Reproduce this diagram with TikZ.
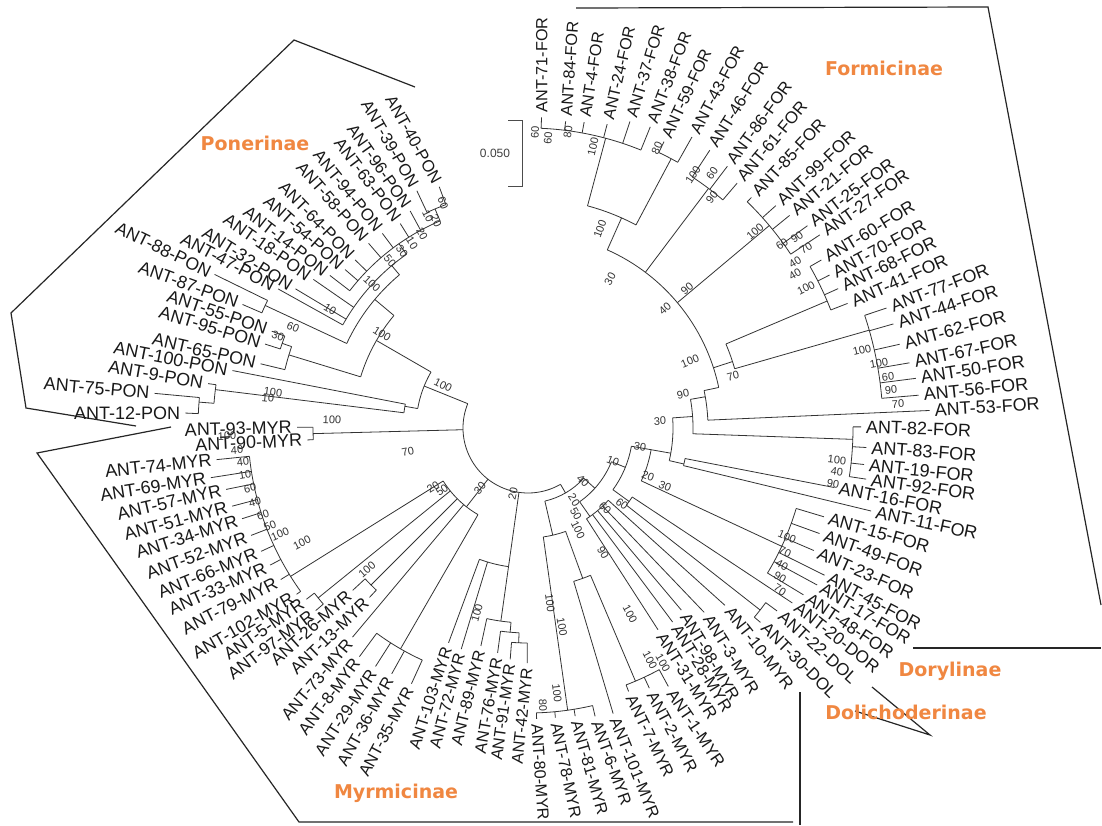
\documentclass[tikz,border=0pt]{standalone}
\usepackage{fontspec}
\setmainfont{Liberation Sans}
\newfontfamily\grpfont{DejaVu Sans}
\definecolor{grp}{RGB}{240,135,65}
\tikzset{
 br/.style={line width=0.8pt, draw=black!80},
 lab/.style={inner sep=1pt, text=black!90},
 bsl/.style={font=\fontsize{11}{11}\selectfont, inner sep=0pt, text=black!80},
 grpl/.style={font=\grpfont\bfseries\fontsize{19}{19}\selectfont, text=grp, inner sep=0pt},
 frame/.style={line width=1.2pt, draw=black!85},
}
\newcommand\rb[3]{\draw[br] (#1:#2pt) -- (#1:#3pt);}
\newcommand\ab[3]{\draw[br] (#1:#3pt) arc[start angle=#1, end angle=#2, radius=#3pt];}
\newcommand\lfR[6]{\pgfmathsetmacro\tipr{#3-4}\draw[br] (#1:#2pt) -- (#1:\tipr pt);
 \pgfmathsetmacro\fs{18/sqrt(cos(#4)^2+sin(#4)^2/0.81)}%
 \node[lab,font=\fontsize{\fs}{\fs}\selectfont,anchor=west,rotate=#4] (#5) at (#1:#3pt) {#6};}
\newcommand\lfL[6]{\pgfmathsetmacro\tipr{#3-4}\draw[br] (#1:#2pt) -- (#1:\tipr pt);
 \pgfmathsetmacro\fs{18/sqrt(cos(#4)^2+sin(#4)^2/0.81)}%
 \node[lab,font=\fontsize{\fs}{\fs}\selectfont,anchor=east,rotate=#4] (#5) at (#1:#3pt) {#6};}
\newcounter{bsc}
\newcommand\bs[3]{\stepcounter{bsc}%
 \pgfmathsetmacro\bsa{atan2(428-#2,#1-528)}%
 \pgfmathsetmacro\bsr{ifthenelse(\bsa>90,\bsa-180,ifthenelse(\bsa<-90,\bsa+180,\bsa))}%
 \node[bsl,rotate=\bsr] (b\thebsc) at (#1,#2) {#3};}
\begin{document}
\begin{tikzpicture}[x=1pt,y=-1pt]
\useasboundingbox (0,0) rectangle (1102,825);
\fill[white] (0,0) rectangle (1102,825);
% group frames
\draw[frame] (576,8) -- (988,7) -- (1101,605);
\draw[frame] (913,648) -- (1101,648);
\draw[frame] (872,687) -- (930,735) -- (855,711);
\draw[frame] (800,692) -- (800,825);
\draw[frame] (171,427) -- (37,453) -- (299,822) -- (793,822);
\draw[frame] (136,426) -- (26,408) -- (11,313) -- (294,40) -- (415,87);
% group labels
\node[grpl] (gfor) at (884,68) {Formicinae};
\node[grpl] (gpon) at (255,143) {Ponerinae};
\node[grpl] (gmyr) at (396,793) {Myrmicinae};
\node[grpl] (gdor) at (950,671) {Dorylinae};
\node[grpl] (gdol) at (906,712) {Dolichoderinae};
% scale bar
\draw[line width=0.9pt, draw=black!70] (508,120) -- (522,120) -- (522,186) -- (508,186);
\node[font=\fontsize{12}{12}\selectfont, text=black!75] (scl) at (495,153) {0.050};
% tree
\begin{scope}[shift={(528,428)},y=1pt]
\coordinate (C) at (0,0);
\ab{158}{300}{65}
% Ponerinae
\rb{158}{65}{112} \ab{150}{170}{112}
\rb{170}{112}{125} \ab{169}{173}{125}
\rb{173}{125}{315} \ab{172.1}{175.5}{315}
\rb{175.5}{315}{330} \ab{174.7}{177.5}{330}
\rb{150}{112}{175} \ab{140}{163}{175}
\rb{163}{175}{250} \ab{161}{166.5}{250}
\rb{161}{250}{260} \ab{159.3}{162.3}{260}
\rb{140}{175}{200} \ab{130}{155}{200}
\rb{155}{200}{290} \ab{153.9}{156.6}{290}
\rb{130}{200}{212} \ab{125}{150.9}{212}
\rb{125}{212}{225} \ab{113}{142.4}{225}
\rb{113}{225}{238} \ab{110.2}{115.1}{238}
% ANT-93/90
\rb{181.5}{65}{215} \ab{179.8}{183.1}{215}
% Myrmicinae left
\rb{232}{65}{100} \ab{212}{240}{100}
\rb{212}{100}{280} \ab{185.8}{215.7}{280}
\rb{219}{100}{270} \ab{217.7}{220.7}{270}
\rb{225}{100}{222} \ab{222.8}{226.9}{222}
\rb{240}{100}{255} \ab{233.6}{245.5}{255}
\rb{262}{65}{140} \ab{249.7}{262}{140}
\rb{262}{140}{195} \ab{257.8}{265}{195}
\rb{265}{195}{205} \ab{262.3}{267.5}{205}
\rb{267.5}{205}{215} \ab{265.6}{269.8}{215}
% spine
\rb{300}{65}{75} \ab{283}{318}{75}
\rb{283}{75}{110} \ab{278}{290}{110}
\rb{278}{110}{285} \ab{271.7}{283.1}{285}
\rb{290}{110}{160} \ab{286.6}{293}{160}
\rb{293}{160}{275} \ab{290.9}{298.5}{275}
\rb{318}{75}{90} \ab{305}{338}{90}
\rb{305}{90}{108} \ab{302.8}{318}{108}
\rb{338}{90}{105} \ab{324}{350}{105}
\rb{324}{105}{125} \ab{321.9}{326.5}{125}
\rb{321.9}{125}{295} \ab{320.1}{323.7}{295}
\rb{350}{105}{125} \ab{335}{350}{125}
\rb{335}{125}{280} \ab{328.8}{343.3}{280}
\rb{350}{125}{145} \ab{347}{364}{145}
\rb{347}{145}{160} \ab{346.4}{349}{160}
\rb{364}{145}{165} \ab{358}{370}{165}
\rb{358}{165}{325} \ab{351.4}{360.2}{325}
\rb{370}{165}{180} \ab{362.5}{372}{180}
\rb{12}{180}{195} \ab{12}{66}{195}
\rb{18}{195}{215} \ab{16}{23}{215}
\rb{16}{215}{355} \ab{4.8}{18.5}{355}
\rb{23}{215}{325} \ab{21.3}{29.8}{325}
\rb{40}{195}{315} \ab{33.5}{45.9}{315}
\rb{53}{195}{300} \ab{49.5}{56.8}{300}
\rb{66}{195}{230} \ab{62}{75}{230}
\rb{62}{230}{305} \ab{60.6}{64.6}{305}
\rb{75}{230}{300} \ab{67.9}{87.5}{300}
% leaves right
\lfR{87.5}{300}{315}{90}{n71}{ANT-71-FOR}
\lfR{83.0}{300}{313}{86}{n84}{ANT-84-FOR}
\lfR{79.6}{300}{315}{81}{n4}{ANT-4-FOR}
\lfR{75.4}{300}{318}{77}{n24}{ANT-24-FOR}
\lfR{71.6}{300}{327}{73}{n37}{ANT-37-FOR}
\lfR{67.9}{300}{329}{69}{n38}{ANT-38-FOR}
\lfR{64.6}{305}{321}{65}{n59}{ANT-59-FOR}
\lfR{60.6}{305}{338}{62}{n43}{ANT-43-FOR}
\lfR{56.8}{300}{336}{58}{n46}{ANT-46-FOR}
\lfR{52.7}{300}{333}{54}{n86}{ANT-86-FOR}
\lfR{49.5}{300}{326}{50}{n61}{ANT-61-FOR}
\lfR{45.9}{315}{325}{47}{n85}{ANT-85-FOR}
\lfR{41.9}{315}{337}{43}{n99}{ANT-99-FOR}
\lfR{39.1}{315}{341}{40}{n21}{ANT-21-FOR}
\lfR{35.9}{315}{349}{37}{n25}{ANT-25-FOR}
\lfR{33.5}{315}{354}{35}{n27}{ANT-27-FOR}
\lfR{29.8}{325}{342}{31}{n60}{ANT-60-FOR}
\lfR{26.9}{325}{342}{28}{n70}{ANT-70-FOR}
\lfR{24.2}{325}{344}{26}{n68}{ANT-68-FOR}
\lfR{21.3}{325}{347}{24}{n41}{ANT-41-FOR}
\lfR{18.5}{355}{382}{21}{n77}{ANT-77-FOR}
\lfR{15.9}{355}{384}{18}{n44}{ANT-44-FOR}
\lfR{12.7}{355}{385}{15}{n62}{ANT-62-FOR}
\lfR{9.7}{355}{391}{12}{n67}{ANT-67-FOR}
\lfR{7.3}{355}{395}{9}{n50}{ANT-50-FOR}
\lfR{4.8}{355}{396}{6}{n56}{ANT-56-FOR}
\lfR{2.5}{180}{406}{3.5}{n53}{ANT-53-FOR}
\lfR{0.2}{325}{337}{-2}{n82}{ANT-82-FOR}
\lfR{-3.3}{325}{343}{-4}{n83}{ANT-83-FOR}
\lfR{-6.2}{325}{342}{-6}{n19}{ANT-19-FOR}
\lfR{-8.6}{325}{346}{-8}{n92}{ANT-92-FOR}
\lfR{-11.0}{160}{316}{-11}{n16}{ANT-16-FOR}
\lfR{-13.6}{160}{357}{-12}{n11}{ANT-11-FOR}
\lfR{-16.7}{280}{313}{-16}{n15}{ANT-15-FOR}
\lfR{-19.9}{280}{314}{-20}{n49}{ANT-49-FOR}
\lfR{-23.2}{280}{315}{-24}{n23}{ANT-23-FOR}
\lfR{-26.4}{280}{335}{-28}{n45}{ANT-45-FOR}
\lfR{-28.5}{280}{333}{-31}{n17}{ANT-17-FOR}
\lfR{-31.2}{280}{326}{-34}{n48}{ANT-48-FOR}
\lfR{-33.5}{125}{321}{-38}{n20}{ANT-20-DOR}
\lfR{-36.3}{295}{313}{-42}{n22}{ANT-22-DOL}
\lfR{-39.9}{295}{307}{-45}{n30}{ANT-30-DOL}
\lfR{-42.0}{108}{269}{-52}{n10}{ANT-10-MYR}
\lfR{-46.3}{108}{259}{-58}{n3}{ANT-3-MYR}
\lfR{-49.9}{108}{242}{-59}{n98}{ANT-98-MYR}
\lfR{-53.3}{108}{246}{-58}{n28}{ANT-28-MYR}
\lfR{-57.2}{108}{244}{-58}{n31}{ANT-31-MYR}
\lfR{-61.5}{275}{298}{-56}{n1}{ANT-1-MYR}
\lfR{-65.0}{275}{291}{-62}{n2}{ANT-2-MYR}
\lfR{-69.1}{275}{286}{-64}{n7}{ANT-7-MYR}
\lfR{-73.4}{160}{302}{-68}{n101}{ANT-101-MYR}
\lfR{-76.9}{285}{300}{-70}{n6}{ANT-6-MYR}
\lfR{-80.7}{285}{296}{-74}{n81}{ANT-81-MYR}
\lfR{-84.6}{285}{295}{-78}{n78}{ANT-78-MYR}
\lfR{-88.3}{285}{295}{-86}{n80}{ANT-80-MYR}
% leaves left
\lfL{269.8}{215}{239}{84}{n42}{ANT-42-MYR}
\lfL{265.6}{215}{236}{82}{n91}{ANT-91-MYR}
\lfL{262.3}{205}{231}{80}{n76}{ANT-76-MYR}
\lfL{257.8}{195}{227}{76}{n89}{ANT-89-MYR}
\lfL{253.2}{140}{235}{75}{n72}{ANT-72-MYR}
\lfL{249.7}{140}{233}{72}{n103}{ANT-103-MYR}
\lfL{245.5}{255}{285}{62}{n35}{ANT-35-MYR}
\lfL{241.0}{255}{285}{61}{n36}{ANT-36-MYR}
\lfL{237.4}{255}{287}{57}{n29}{ANT-29-MYR}
\lfL{233.6}{255}{288}{53}{n8}{ANT-8-MYR}
\lfL{230.0}{100}{277}{50}{n73}{ANT-73-MYR}
\lfL{226.9}{222}{236}{44}{n13}{ANT-13-MYR}
\lfL{222.8}{222}{243}{42}{n26}{ANT-26-MYR}
\lfL{220.7}{270}{284}{37}{n97}{ANT-97-MYR}
\lfL{217.7}{270}{284}{35}{n5}{ANT-5-MYR}
\lfL{215.7}{280}{289}{30}{n102}{ANT-102-MYR}
\lfL{211.5}{280}{294}{27}{n79}{ANT-79-MYR}
\lfL{208.0}{280}{296}{24}{n33}{ANT-33-MYR}
\lfL{204.8}{280}{298}{22}{n66}{ANT-66-MYR}
\lfL{201.2}{280}{301}{20}{n52}{ANT-52-MYR}
\lfL{197.6}{280}{304}{18}{n34}{ANT-34-MYR}
\lfL{194.8}{280}{310}{15}{n51}{ANT-51-MYR}
\lfL{191.5}{280}{312}{13}{n57}{ANT-57-MYR}
\lfL{188.9}{280}{325}{9}{n69}{ANT-69-MYR}
\lfL{185.8}{280}{317}{6}{n74}{ANT-74-MYR}
\lfL{183.1}{215}{225}{2.5}{n90}{ANT-90-MYR}
\lfL{179.8}{215}{235}{1.5}{n93}{ANT-93-MYR}
\lfL{177.5}{330}{347}{0}{n12}{ANT-12-PON}
\lfL{174.7}{330}{379}{-5}{n75}{ANT-75-PON}
\lfL{172.1}{315}{327}{-10}{n9}{ANT-9-PON}
\lfL{169.0}{125}{305}{-11}{n100}{ANT-100-PON}
\lfL{166.5}{250}{279}{-13}{n65}{ANT-65-PON}
\lfL{162.3}{260}{280}{-17}{n95}{ANT-95-PON}
\lfL{159.3}{260}{278}{-19}{n55}{ANT-55-PON}
\lfL{156.6}{290}{315}{-20}{n87}{ANT-87-PON}
\lfL{153.9}{290}{353}{-26}{n88}{ANT-88-PON}
\lfL{150.9}{212}{290}{-28}{n47}{ANT-47-PON}
\lfL{149.1}{212}{275}{-32}{n32}{ANT-32-PON}
\lfL{145.3}{212}{265}{-35}{n18}{ANT-18-PON}
\lfL{142.4}{225}{254}{-38}{n14}{ANT-14-PON}
\lfL{139.1}{225}{246}{-42}{n54}{ANT-54-PON}
\lfL{135.8}{225}{245}{-46}{n64}{ANT-64-PON}
\lfL{130.8}{225}{248}{-49}{n58}{ANT-58-PON}
\lfL{126.8}{225}{247}{-51}{n94}{ANT-94-PON}
\lfL{122.0}{225}{245}{-53}{n63}{ANT-63-PON}
\lfL{118.5}{225}{251}{-55}{n96}{ANT-96-PON}
\lfL{115.1}{238}{266}{-60}{n39}{ANT-39-PON}
\lfL{110.2}{238}{261}{-61}{n40}{ANT-40-PON}
\end{scope}
% bootstrap values
\bs{535}{132}{60} \bs{548}{138}{60} \bs{568}{132}{80} \bs{593}{147}{100}
\bs{600}{229}{100} \bs{610}{279}{30} \bs{657}{148}{80} \bs{693}{175}{100}
\bs{712}{173}{60} \bs{712}{197}{90} \bs{755}{232}{100} \bs{782}{244}{60}
\bs{797}{237}{90} \bs{806}{248}{70} \bs{795}{262}{40} \bs{795}{274}{40}
\bs{806}{288}{100} \bs{687}{289}{90} \bs{665}{309}{40} \bs{690}{361}{100}
\bs{733}{376}{70} \bs{862}{350}{100} \bs{879}{363}{100} \bs{888}{377}{60}
\bs{891}{390}{90} \bs{898}{404}{70}
\bs{683}{394}{90} \bs{660}{421}{30} \bs{640}{447}{30} \bs{613}{461}{10}
\bs{583}{481}{40} \bs{648}{476}{20} \bs{665}{486}{30} \bs{622}{504}{60}
\bs{605}{508}{60} \bs{574}{500}{20} \bs{576}{514}{50} \bs{578}{530}{100}
\bs{603}{553}{90} \bs{630}{614}{100}
\bs{787}{537}{100} \bs{785}{552}{70} \bs{782}{565}{40} \bs{780}{577}{90} \bs{780}{590}{70}
\bs{837}{460}{100} \bs{837}{472}{40} \bs{833}{484}{90}
\bs{550}{603}{100} \bs{562}{627}{100} \bs{650}{660}{100} \bs{663}{663}{100}
\bs{557}{693}{100} \bs{543}{705}{80} \bs{477}{613}{100} \bs{367}{570}{100}
\bs{332}{420}{100} \bs{408}{452}{70} \bs{227}{436}{100} \bs{237}{450}{40}
\bs{243}{462}{40} \bs{245}{475}{10} \bs{250}{488}{60} \bs{255}{502}{40}
\bs{263}{515}{60} \bs{270}{526}{50} \bs{280}{534}{100} \bs{302}{543}{100}
\bs{433}{487}{20} \bs{442}{490}{50} \bs{480}{488}{30} \bs{513}{494}{20}
\bs{443}{203}{60} \bs{436}{221}{20} \bs{428}{216}{10} \bs{422}{234}{20}
\bs{412}{243}{10} \bs{402}{251}{30} \bs{390}{261}{50} \bs{372}{284}{100}
\bs{330}{309}{10} \bs{382}{334}{100} \bs{293}{327}{60} \bs{278}{336}{30}
\bs{443}{385}{100} \bs{273}{392}{100} \bs{268}{398}{10}
\end{tikzpicture}
\end{document}
